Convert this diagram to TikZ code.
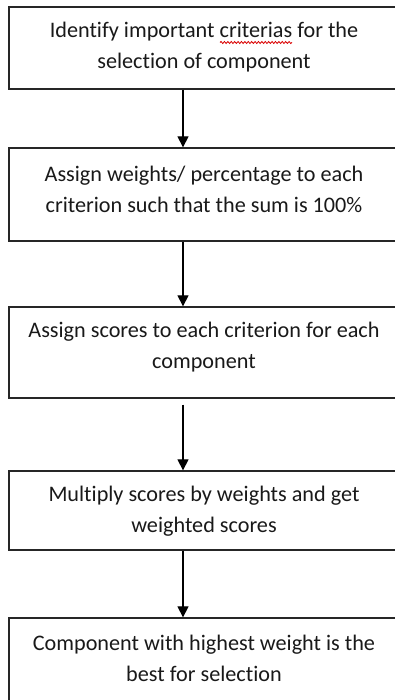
\documentclass[tikz,border=0pt]{standalone}
\usepackage{fontspec}
\setmainfont{Carlito}[Ligatures={NoCommon}]
\usetikzlibrary{arrows.meta,decorations.pathmorphing}
\tikzset{
  box/.style={draw=black!85, line width=1.3pt, minimum width=390pt, inner sep=0pt},
  label/.style={align=center, font=\fontsize{22.2}{31}\selectfont, text=black!90, inner sep=0pt},
  arr/.style={draw=black, line width=1.2pt, -{Triangle[width=11pt,length=11pt]}},
  squiggle/.style={draw=red!85!black, line width=0.8pt, decorate, decoration={snake, amplitude=1pt, segment length=3.4pt}}
}
\begin{document}
\begin{tikzpicture}[x=1pt, y=-1pt]
\useasboundingbox (0,0) rectangle (395,700);
\clip (0,0) rectangle (395,700);
\coordinate (ax) at (183,0);
\node[box, minimum height=82pt] (b1) at (204,48) {};
\node[box, minimum height=93pt] (b2) at (204,194.5) {};
\node[box, minimum height=91pt] (b3) at (204,352.5) {};
\node[box, minimum height=79pt] (b4) at (204,510.5) {};
\node[box, minimum height=88pt] (b5) at (204,662) {};
\node[label] (t1) at (204,47.5) {Identify important criterias for the\\selection of component};
\node[label] (t2) at (204,189) {Assign weights/ percentage to each\\criterion such that the sum is 100\%};
\node[label] (t3) at (204,347.5) {Assign scores to each criterion for each\\component};
\node[label] (t4) at (204,511) {Multiply scores by weights and get\\weighted scores};
\node[label] (t5) at (204,658.5) {Component with highest weight is the\\best for selection};
\coordinate (sqa) at (220,42.5);
\coordinate (sqb) at (292,42.5);
\draw[squiggle] (sqa) -- (sqb);
\draw[arr] (b1.south -| ax) -- (b2.north -| ax);
\draw[arr] (b2.south -| ax) -- (b3.north -| ax);
\draw[arr] ([yshift=-6pt]b3.south -| ax) -- (b4.north -| ax);
\draw[arr] (b4.south -| ax) -- (b5.north -| ax);
\end{tikzpicture}
\end{document}
